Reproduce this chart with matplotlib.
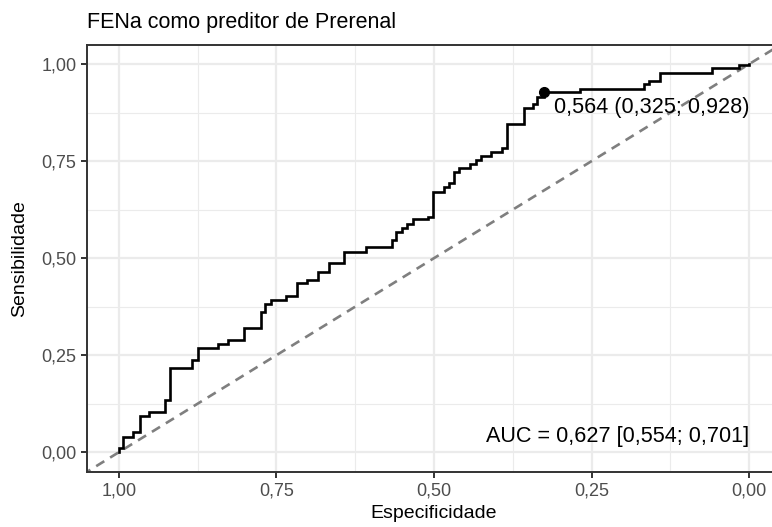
import matplotlib
matplotlib.use("Agg")
import matplotlib.pyplot as plt
from matplotlib.ticker import FixedLocator, FuncFormatter

plt.rcParams['font.family'] = ['Liberation Sans', 'DejaVu Sans']

# ROC curve vertices (top of each vertical step), specificity decreasing
specificity = [1.000, 1.000, 0.993, 0.977, 0.967, 0.952, 0.926, 0.919, 0.884, 0.875,
               0.842, 0.826, 0.801, 0.775, 0.768, 0.759, 0.734, 0.718, 0.702, 0.684,
               0.667, 0.642, 0.608, 0.567, 0.560, 0.551, 0.543, 0.534, 0.509, 0.501,
               0.484, 0.476, 0.468, 0.460, 0.443, 0.434, 0.426, 0.410, 0.392, 0.384,
               0.358, 0.343, 0.336, 0.325, 0.269, 0.167, 0.159, 0.142, 0.059, 0.016,
               0.000]
sensitivity = [0.000, 0.010, 0.040, 0.053, 0.094, 0.105, 0.135, 0.216, 0.238, 0.268,
               0.279, 0.289, 0.319, 0.362, 0.382, 0.392, 0.403, 0.435, 0.444, 0.465,
               0.487, 0.517, 0.528, 0.547, 0.567, 0.577, 0.588, 0.600, 0.607, 0.671,
               0.682, 0.693, 0.721, 0.731, 0.742, 0.752, 0.763, 0.773, 0.783, 0.846,
               0.886, 0.896, 0.916, 0.928, 0.936, 0.949, 0.957, 0.978, 0.989, 0.997,
               1.000]

# Best threshold and AUC summary
best_threshold = 0.564
best_spec = 0.325
best_sens = 0.928
auc = 0.627
auc_ci = (0.554, 0.701)

tick_values = [0.00, 0.25, 0.50, 0.75, 1.00]
minor_values = [0.125, 0.375, 0.625, 0.875]


def br(v, nd):
    return f"{v:.{nd}f}".replace('.', ',')


W, H = 772, 527
fig = plt.figure(figsize=(W / 100, H / 100), dpi=100)
left, right, top, bottom = 87.2, 780.8, 44.6, 471.7
ax = fig.add_axes([left / W, 1 - bottom / H, (right - left) / W, (bottom - top) / H])

ax.set_xlim(1.05, -0.05)
ax.set_ylim(-0.05, 1.05)

border = '#333333'
for s in ax.spines.values():
    s.set_color(border)
    s.set_linewidth(1.4)

ax.xaxis.set_major_locator(FixedLocator(tick_values))
ax.yaxis.set_major_locator(FixedLocator(tick_values))
ax.xaxis.set_minor_locator(FixedLocator(minor_values))
ax.yaxis.set_minor_locator(FixedLocator(minor_values))
fmt = FuncFormatter(lambda v, p: br(v, 2))
ax.xaxis.set_major_formatter(fmt)
ax.yaxis.set_major_formatter(fmt)
ax.tick_params(which='major', length=4.3, width=1.4, color=border,
               labelcolor='#4D4D4D', labelsize=13, pad=3.5)
ax.tick_params(which='minor', length=0)

ax.grid(which='major', color='#EBEBEB', linewidth=1.6)
ax.grid(which='minor', color='#EBEBEB', linewidth=0.8)
ax.set_axisbelow(True)

# Chance diagonal
ax.axline((1, 0), (0, 1), color='#7F7F7F', linewidth=1.9,
          linestyle=(0, (3.6, 2.6)), zorder=2)

# ROC curve
ax.step(specificity, sensitivity, where='post', color='black', linewidth=1.9,
        solid_joinstyle='miter', zorder=3)

# Best threshold point and label
ax.plot([best_spec], [best_sens], 'o', color='black', markersize=7, zorder=4)
ax.annotate(f"{br(best_threshold, 3)} ({br(best_spec, 3)}; {br(best_sens, 3)})",
            xy=(best_spec, best_sens), xytext=(10, -16), textcoords='offset pixels',
            ha='left', va='center', fontsize=15.6, color='black')

# AUC label
ax.text(0.0, 0.04, f"AUC = {br(auc, 3)} [{br(auc_ci[0], 3)}; {br(auc_ci[1], 3)}]",
        ha='right', va='center', fontsize=15.6, color='black')

fig.text(left / W, 1 - 28 / H, "FENa como preditor de Prerenal",
         ha='left', va='baseline', fontsize=15.5, color='black')
fig.text((left + right) / 2 / W, 1 - 514 / H, "Especificidade",
         ha='center', va='center', fontsize=14, color='black')
fig.text(20 / W, 1 - (top + bottom) / 2 / H, "Sensibilidade",
         ha='center', va='center', rotation=90, fontsize=14, color='black')

fig.savefig("out.png", dpi=100)
